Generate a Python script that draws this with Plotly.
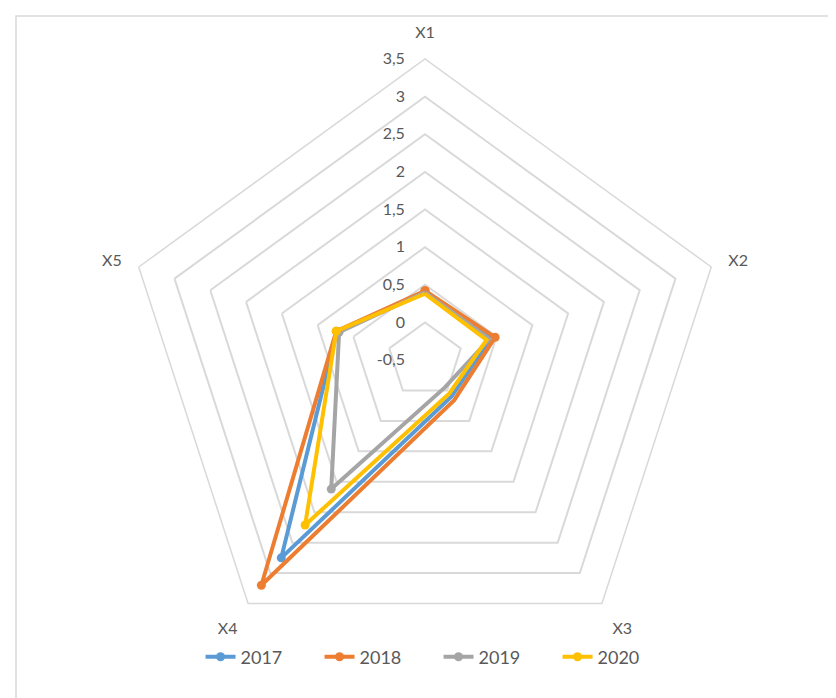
import plotly.graph_objects as go

categories = ["X1", "X2", "X3", "X4", "X5"]
years = ["2017", "2018", "2019", "2020"]
v2017 = [0.40, 0.42, 0.10, 2.75, 0.73]
v2018 = [0.42, 0.48, 0.16, 3.20, 0.74]
v2019 = [0.40, 0.40, -0.05, 1.62, 0.70]
v2020 = [0.38, 0.36, 0.05, 2.21, 0.74]
series = [v2017, v2018, v2019, v2020]
colors = ["#5B9BD5", "#ED7D31", "#A5A5A5", "#FFC000"]
tick_vals = [-0.5, 0, 0.5, 1, 1.5, 2, 2.5, 3, 3.5]
tick_text = ["-0,5", "0", "0,5", "1", "1,5", "2", "2,5", "3", "3,5"]

FONT = "Lato, Open Sans, sans-serif"
TXT = "#595959"

fig = go.Figure()
for name, vals, col in zip(years, series, colors):
    fig.add_trace(go.Scatterpolar(
        r=vals + [vals[0]],
        theta=categories + [categories[0]],
        name=name,
        mode="lines+markers",
        line=dict(color=col, width=4),
        marker=dict(color=col, size=9, symbol="circle"),
    ))

W, H = 836, 698
cx, cy, R = 417, 352, 301
fig.update_layout(
    width=W, height=H,
    margin=dict(l=0, r=0, t=0, b=0),
    paper_bgcolor="white",
    plot_bgcolor="white",
    font=dict(family=FONT, color=TXT, size=15),
    polar=dict(
        domain=dict(x=[(cx - R) / W, (cx + R) / W],
                    y=[(H - cy - R) / H, (H - cy + R) / H]),
        gridshape="linear",
        bgcolor="white",
        radialaxis=dict(
            range=[-0.5, 3.5],
            tickvals=tick_vals,
            ticktext=tick_text,
            angle=90,
            side="counterclockwise",
            showline=False,
            gridcolor="#D9D9D9",
            gridwidth=1.5,
            ticks="outside",
            ticklen=14,
            tickcolor="rgba(0,0,0,0)",
            tickangle=90,
            tickfont=dict(family=FONT, color=TXT, size=16),
        ),
        angularaxis=dict(
            rotation=90,
            direction="clockwise",
            showgrid=False,
            showline=True,
            linecolor="#D9D9D9",
            linewidth=1.5,
            ticks="outside",
            ticklen=14,
            tickcolor="rgba(0,0,0,0)",
            tickfont=dict(family=FONT, color=TXT, size=16),
        ),
    ),
    legend=dict(
        orientation="h",
        x=0.515, xanchor="center",
        y=(H - 649) / H, yanchor="middle",
        font=dict(family=FONT, color=TXT, size=18),
        entrywidth=74,
        bgcolor="rgba(0,0,0,0)",
    ),
    shapes=[dict(type="rect", xref="paper", yref="paper",
                 x0=8 / W, x1=833 / W, y0=-0.05, y1=1 - 8 / H,
                 line=dict(color="#D9D9D9", width=1.5))],
)

fig.write_html("out.html")
